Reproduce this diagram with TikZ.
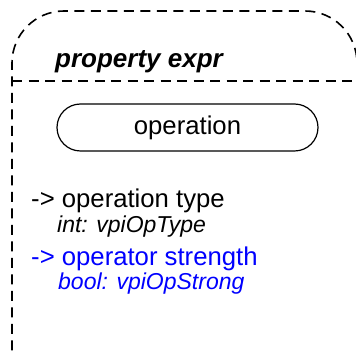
\documentclass[tikz,border=0pt]{standalone}
\usepackage{fontspec}
\setmainfont{Liberation Sans}
\begin{document}
\begin{tikzpicture}[x=1pt, y=1pt,
    frame/.style={black, line width=1.6pt, dash pattern=on 10pt off 6.5pt},
    big/.style={font=\fontsize{25.7}{30}\selectfont},
    small/.style={font=\fontsize{23}{27}\selectfont\itshape}]
            \tikzstyle{every node}+=[inner sep=0pt]
            \useasboundingbox (0,0) rectangle (356,-352);
            % outer box, cut off at right and bottom
            \draw [frame, rounded corners=52] (12,-400) -- (12,-11) -- (357,-11) -- (357,-400);
            \draw [frame] (12,-81) -- (358,-81);
            \node [anchor=base west, font=\fontsize{26}{30}\selectfont\bfseries\itshape] (title) at (55,-68) {property expr};
            \node [big, draw, line width=1.2pt, rounded corners=23.5, minimum width=261, minimum height=47] (op) at (187.5,-127.5) {operation};
            % attributes
            \node [big, anchor=base west] (optype) at (31,-208) {-> operation type};
            \node [small, anchor=base west] (optypev) at (57,-233) {int: vpiOpType};
            \node [big, anchor=base west, text=blue] (opstr) at (31,-266) {-> operator strength};
            \node [small, anchor=base west, text=blue] (opstrv) at (58,-290) {bool: vpiOpStrong};
\end{tikzpicture}
\end{document}
